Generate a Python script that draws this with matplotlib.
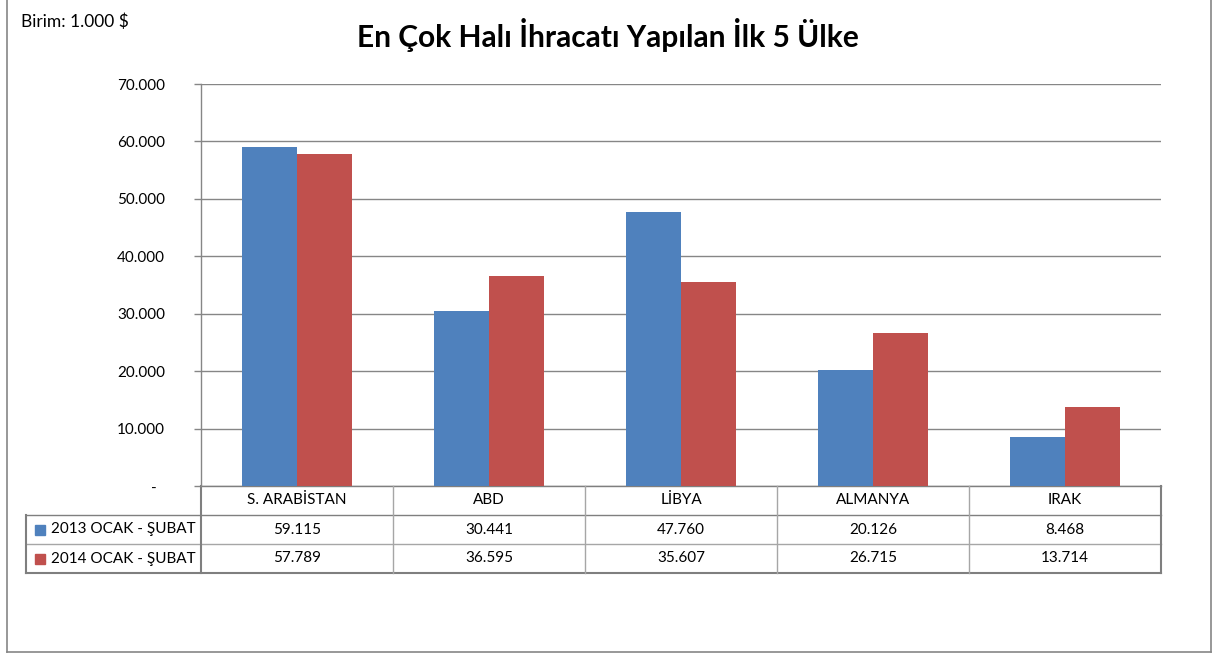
import matplotlib
matplotlib.use("Agg")
import matplotlib.pyplot as plt
from matplotlib.lines import Line2D
from matplotlib.patches import Rectangle

categories = ["S. ARABİSTAN", "ABD", "LİBYA", "ALMANYA", "IRAK"]
series_names = ["2013 OCAK - ŞUBAT", "2014 OCAK - ŞUBAT"]
values_2013 = [59115, 30441, 47760, 20126, 8468]
values_2014 = [57789, 36595, 35607, 26715, 13714]
yticks = [0, 10000, 20000, 30000, 40000, 50000, 60000, 70000]
title = "En Çok Halı İhracatı Yapılan İlk 5 Ülke"
unit_note = "Birim: 1.000 $"

colors = ["#4F81BD", "#C0504D"]
FONT = "Lato"
plt.rcParams['font.family'] = [FONT, "DejaVu Sans"]
FS = 11

W, H = 1216, 655
fig = plt.figure(figsize=(W / 100, H / 100), dpi=100)

L, R, T, B = 201, 1161, 84, 486
ax = fig.add_axes([L / W, 1 - B / H, (R - L) / W, (B - T) / H])

def fmt(v):
    return f"{v:,}".replace(",", ".")

n = len(categories)
bw = 0.2865
xs = list(range(n))
ax.bar([x - bw / 2 for x in xs], values_2013, width=bw, color=colors[0], zorder=3)
ax.bar([x + bw / 2 for x in xs], values_2014, width=bw, color=colors[1], zorder=3)

ax.set_xlim(-0.5, n - 0.5)
ax.set_ylim(0, 70000)
ax.set_yticks(yticks)
ax.set_yticklabels(["-  " if v == 0 else fmt(v) for v in yticks], fontsize=FS)
ax.tick_params(axis="y", length=5, width=1, color="#868686", pad=21)
ax.tick_params(axis="x", length=0, labelbottom=False)
ax.grid(axis="y", color="#868686", linewidth=1, zorder=0)
for s in ["top", "right", "bottom"]:
    ax.spines[s].set_visible(False)
ax.spines["left"].set_color("#868686")
ax.spines["left"].set_linewidth(1)

# table (x in data units, y in axes units)
trans = ax.get_xaxis_transform()
ph = B - T
def ay(py):
    return (B - py) / ph

px_per_unit = (R - L) / n
x_left = -0.5 - (L - 26) / px_per_unit
inner = "#A6A6A6"
outer = "#7F7F7F"

def hline(x0, x1, py, c, lw=1):
    ax.add_line(Line2D([x0, x1], [ay(py), ay(py)], transform=trans, color=c, lw=lw, clip_on=False))

def vline(x, py0, py1, c, lw=1):
    ax.add_line(Line2D([x, x], [ay(py0), ay(py1)], transform=trans, color=c, lw=lw, clip_on=False))

hline(-0.5, n - 0.5, 486, outer)
hline(x_left, n - 0.5, 515, outer)
hline(x_left, n - 0.5, 544, inner)
hline(x_left, n - 0.5, 573, outer, 1.5)
for i in range(n + 1):
    xb = -0.5 + i
    vline(xb, 486, 573, outer if i in (0, n) else inner, 1.5 if i in (0, n) else 1)
vline(x_left, 515, 573, outer, 1.5)

for i, c in enumerate(categories):
    ax.text(i, ay(500.5), c, transform=trans, ha="center", va="center", fontsize=FS, clip_on=False)
for r, vals in enumerate([values_2013, values_2014]):
    yc = ay(529.5 + 29 * r)
    for i, v in enumerate(vals):
        ax.text(i, yc, fmt(v), transform=trans, ha="center", va="center", fontsize=FS, clip_on=False)
    kx = x_left + 9 / px_per_unit
    kw = 10 / px_per_unit
    ax.add_patch(Rectangle((kx, yc - 5 / ph), kw, 10 / ph, transform=trans,
                           color=colors[r], clip_on=False))
    ax.text(x_left + 25 / px_per_unit, yc, series_names[r], transform=trans, ha="left",
            va="center", fontsize=FS, clip_on=False)

fig.text(608 / W, 1 - 35 / H, title, ha="center", va="center", fontsize=21.5, fontweight="bold")
fig.text(21 / W, 1 - 22 / H, unit_note, ha="left", va="center", fontsize=12.5)

bc = "#868686"
fig.add_artist(Line2D([7 / W, 7 / W], [1 - 652 / H, 1.0], transform=fig.transFigure, color=bc, lw=1.2))
fig.add_artist(Line2D([1211 / W, 1211 / W], [1 - 652 / H, 1.0], transform=fig.transFigure, color=bc, lw=1.2))
fig.add_artist(Line2D([7 / W, 1211 / W], [1 - 652 / H, 1 - 652 / H], transform=fig.transFigure, color=bc, lw=1.2))

fig.savefig("out.png", dpi=100)
